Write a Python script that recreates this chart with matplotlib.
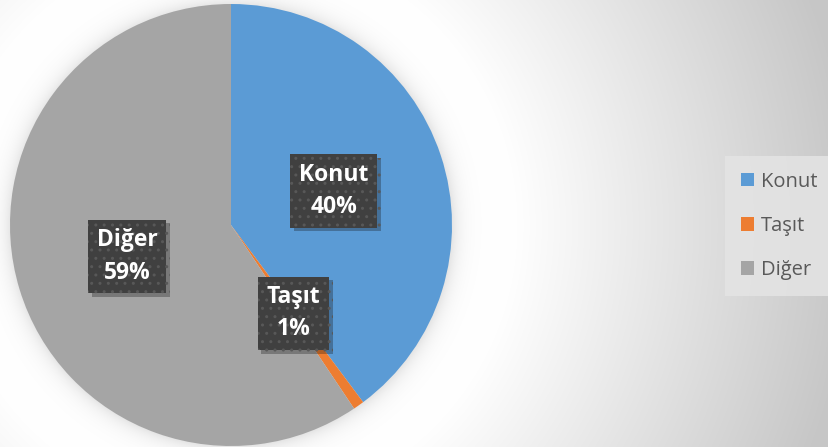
import numpy as np
import matplotlib
matplotlib.use('Agg')
import matplotlib.pyplot as plt
from matplotlib.patches import Patch
from matplotlib import patheffects

plt.rcParams['font.family'] = ['Open Sans', 'DejaVu Sans']

### data
categories = ['Konut', 'Taşıt', 'Diğer']
shares = [39.8, 0.8, 59.4]
colors = ['#5B9BD5', '#ED7D31', '#A5A5A5']

W, H = 829, 447
fig = plt.figure(figsize=(W / 100, H / 100), dpi=100)

### background: radial gradient + soft shadow round the pie
cx, cy, R = 231, 225, 221
yy, xx = np.mgrid[0:H, 0:W]
r = np.hypot(xx - cx, yy - cy)
v = np.where(r < 280, 1.0, 1.0 - 0.22 * np.clip((r - 280) / 340, 0, 1))
v = v - 0.10 * np.exp(-np.clip(r - R, 0, None) / 9.0)
bg = fig.add_axes([0, 0, 1, 1], zorder=0)
bg.imshow(np.dstack([v, v, v]), extent=(0, W, H, 0), aspect='auto', interpolation='bilinear')
bg.axis('off')

### pie
ax = fig.add_axes([(cx - R) / W, (H - cy - R) / H, 2 * R / W, 2 * R / H], zorder=1)
wedges, texts, autotexts = ax.pie(shares, colors=colors, startangle=90, counterclock=False,
                                  autopct='%.0f%%', pctdistance=0.49,
                                  wedgeprops=dict(linewidth=0),
                                  textprops=dict(color='white', fontsize=16.5, fontweight='bold'))
ax.set_xlim(-1, 1)
ax.set_ylim(-1, 1)
ax.set_aspect('equal')

for name, t in zip(categories, autotexts):
    t.set_text(name + '\n' + t.get_text())
    t.set_linespacing(1.45)
    t.set_bbox(dict(boxstyle='square,pad=0.38', facecolor='#404040', edgecolor='#585858',
                    linewidth=0, hatch='..'))
    t.get_bbox_patch().set_path_effects([patheffects.SimplePatchShadow(offset=(2.5, -2.5), alpha=0.3),
                                         patheffects.Normal()])

### legend
handles = [Patch(facecolor=c, edgecolor='none') for c in colors]
leg = fig.legend(handles, categories, loc='center left', bbox_to_anchor=(731 / W, 1 - 226 / H),
                 frameon=True, fontsize=14.5, handlelength=0.65, handleheight=0.65,
                 handletextpad=0.35, labelspacing=1.2, borderpad=0.5, borderaxespad=0)
leg.get_frame().set_facecolor('#e4e4e4')
leg.get_frame().set_edgecolor('none')
leg.get_frame().set_boxstyle('square')
leg.get_frame().set_alpha(0.85)
for txt in leg.get_texts():
    txt.set_color('#595959')

fig.savefig('out.png', dpi=100)
